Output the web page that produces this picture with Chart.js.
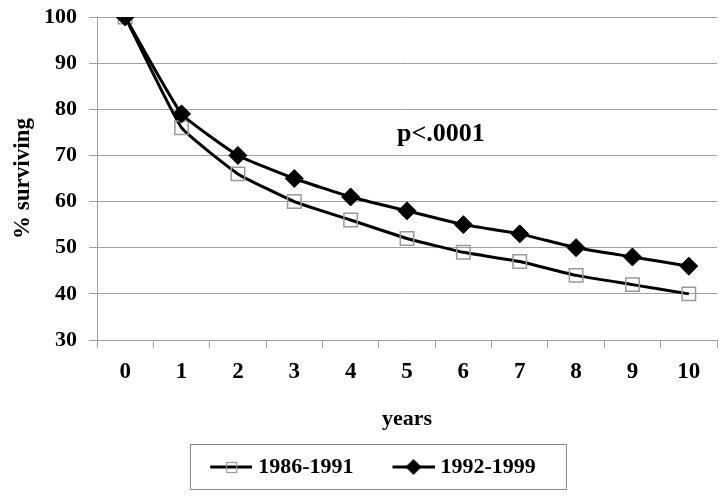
<!DOCTYPE html>
<html>
<head>
<meta charset="utf-8">
<script src="https://cdn.jsdelivr.net/npm/chart.js@4/dist/chart.umd.min.js"></script>
<style>
    html, body { margin: 0; padding: 0; background: #fff; overflow: hidden; }
    canvas { display: block; }
</style>
</head>
<body>
<canvas id="survChart" width="720" height="498"></canvas>
<script>
// data
const years = ['0', '1', '2', '3', '4', '5', '6', '7', '8', '9', '10'];
const cohort8691 = [100, 76, 66, 60, 56, 52, 49, 47, 44, 42, 40];
const cohort9299 = [100, 79, 70, 65, 61, 58, 55, 53, 50, 48, 46];
const yTicks = [30, 40, 50, 60, 70, 80, 90, 100];
const pLabel = 'p<.0001';

const SERIF = '"Liberation Serif", "Times New Roman", serif';
const GRID = '#a0a0a0';

// legend sample: short line with the marker in the middle
function legendSample(kind) {
    const c = document.createElement('canvas');
    c.width = 76; c.height = 20;
    const g = c.getContext('2d');
    g.strokeStyle = '#000';
    g.lineWidth = 3;
    g.beginPath(); g.moveTo(34, 10); g.lineTo(76, 10); g.stroke();
    if (kind === 'square') {
        g.strokeStyle = '#999';
        g.lineWidth = 1.2;
        g.strokeRect(50.5, 5.5, 10, 10);
    } else {
        g.fillStyle = '#000';
        g.beginPath();
        g.moveTo(55, 2); g.lineTo(63, 10); g.lineTo(55, 18); g.lineTo(47, 10);
        g.closePath(); g.fill();
    }
    return c;
}
const samples = [legendSample('square'), legendSample('diamond')];

// no extra label padding: the layout padding sets the plot box
function noLabelPad(scale) {
    scale.paddingTop = 0; scale.paddingBottom = 0;
    scale.paddingLeft = 0; scale.paddingRight = 0;
}

// box around the legend items + the p-value text
const extras = {
    id: 'extras',
    afterDatasetsDraw(chart) {
        const { ctx, scales: { x, y } } = chart;
        ctx.save();
        ctx.font = 'bold 26px ' + SERIF;
        ctx.fillStyle = '#000';
        ctx.textAlign = 'center';
        ctx.textBaseline = 'middle';
        ctx.fillText(pLabel, x.getPixelForValue(5.6), y.getPixelForValue(74.5));
        ctx.restore();
    },
    afterDraw(chart) {
        const hb = chart.legend.legendHitBoxes;
        if (!hb || !hb.length) return;
        const last = hb[hb.length - 1];
        const ctx = chart.ctx;
        ctx.save();
        ctx.strokeStyle = '#888';
        ctx.lineWidth = 1;
        const x0 = Math.round(hb[0].left + 9) + 0.5;
        const x1 = Math.round(last.left + last.width + 30) + 0.5;
        const y0 = Math.round(hb[0].top - 12) + 0.5;
        const y1 = Math.round(hb[0].top + hb[0].height + 11) + 0.5;
        ctx.strokeRect(x0, y0, x1 - x0, y1 - y0);
        ctx.restore();
    }
};

document.addEventListener('DOMContentLoaded', function() {
    const ctx = document.getElementById('survChart').getContext('2d');

    new Chart(ctx, {
        type: 'line',
        data: {
            labels: years,
            datasets: [{
                label: '1986-1991',
                data: cohort8691,
                borderColor: '#000',
                borderWidth: 3,
                tension: 0.12,
                pointStyle: 'rect',
                pointRadius: 9.5,
                pointBorderColor: '#999',
                pointBorderWidth: 1.5,
                pointBackgroundColor: 'rgba(0,0,0,0)',
                order: 2
            }, {
                label: '1992-1999',
                data: cohort9299,
                borderColor: '#000',
                borderWidth: 3,
                tension: 0.12,
                pointStyle: 'rectRot',
                pointRadius: 9,
                pointBorderColor: '#000',
                pointBorderWidth: 1,
                pointBackgroundColor: '#000',
                order: 1
            }]
        },
        options: {
            responsive: false,
            animation: false,
            layout: { autoPadding: false, padding: { top: 17, right: 3, bottom: 10, left: 0 } },
            plugins: {
                tooltip: { enabled: false },
                legend: {
                    position: 'bottom',
                    labels: {
                        color: '#000',
                        font: { family: SERIF, size: 22, weight: 'bold' },
                        usePointStyle: true,
                        pointStyleWidth: 66,
                        padding: 10,
                        sort: (a, b) => a.datasetIndex - b.datasetIndex,
                        generateLabels(chart) {
                            return Chart.defaults.plugins.legend.labels.generateLabels(chart)
                                .map(item => Object.assign(item, { pointStyle: samples[item.datasetIndex] }));
                        }
                    }
                }
            },
            scales: {
                x: {
                    offset: true,
                    afterFit(scale) { scale.height = 106; noLabelPad(scale); },
                    grid: { drawOnChartArea: false, drawTicks: true, tickLength: 8, color: GRID, offset: true },
                    border: { display: true, color: GRID },
                    ticks: { color: '#000', padding: 10, font: { family: SERIF, size: 23, weight: 'bold' } },
                    title: {
                        display: true, text: 'years', color: '#000',
                        font: { family: SERIF, size: 22, weight: 'bold' },
                        padding: { top: 12, bottom: 13 }
                    }
                },
                y: {
                    min: 30, max: 100,
                    afterFit(scale) { scale.width = 97; noLabelPad(scale); },
                    afterBuildTicks(scale) { scale.ticks = yTicks.map(v => ({ value: v })); },
                    grid: { color: GRID, tickLength: 8 },
                    border: { display: true, color: GRID },
                    ticks: { color: '#000', padding: 12, font: { family: SERIF, size: 22, weight: 'bold' } },
                    title: {
                        display: true, text: '% surviving', color: '#000',
                        font: { family: SERIF, size: 23, weight: 'bold' },
                        padding: { top: 9, bottom: 0 }
                    }
                }
            }
        },
        plugins: [extras]
    });
});
</script>
</body>
</html>
